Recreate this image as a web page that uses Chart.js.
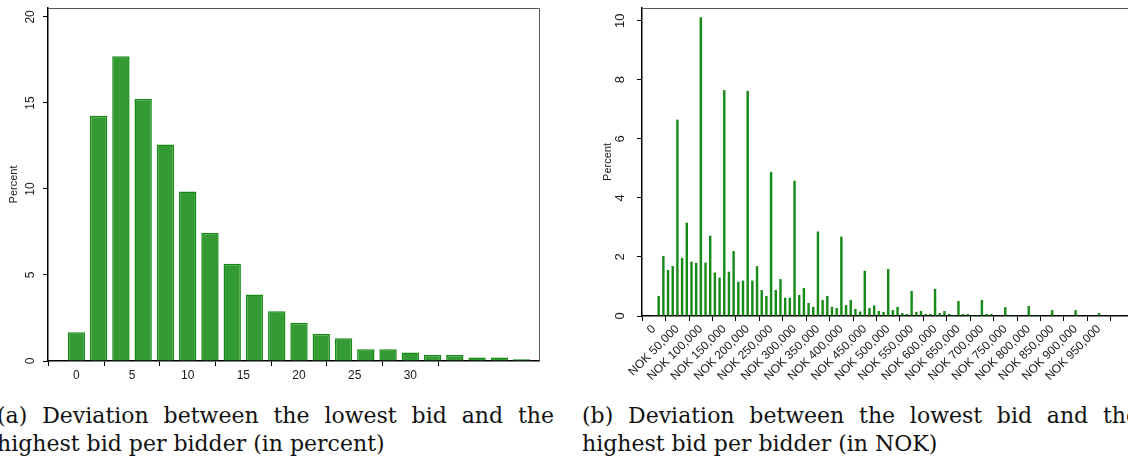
<!DOCTYPE html>
<html><head><meta charset="utf-8">
<script src="https://cdn.jsdelivr.net/npm/chart.js@4.4.1/dist/chart.umd.min.js"></script>
<style>
html,body{margin:0;padding:0;background:#fff;overflow:hidden;width:1128px;height:458px;position:relative;}
#wrapA{position:absolute;left:0;top:0;width:560px;height:395px;}
#wrapB{position:absolute;left:570px;top:0;width:590px;height:395px;}
canvas{display:block;}
.cap{position:absolute;font-family:"DejaVu Serif",serif;font-size:22px;line-height:28px;color:#111;}
.just{text-align:justify;text-align-last:justify;}
.nw{white-space:nowrap;}
</style></head><body>
<div id="wrapA"><canvas id="cA" width="560" height="395"></canvas></div>
<div id="wrapB"><canvas id="cB" width="590" height="395"></canvas></div>
<div class="cap just" style="left:-3px;top:402px;width:557px;">(a) Deviation between the lowest bid and the</div>
<div class="cap nw" style="left:-3px;top:430px;">highest bid per bidder (in percent)</div>
<div class="cap just" style="left:582px;top:402px;width:557px;">(b) Deviation between the lowest bid and the</div>
<div class="cap nw" style="left:582px;top:430px;">highest bid per bidder (in NOK)</div>
<script>
// ---- Panel (a): deviation in percent ----
const pctBins = [0,2,4,6,8,10,12,14,16,18,20,22,24,26,28,30,32,34,36,38,40];
const pctShares = [1.67,14.26,17.71,15.23,12.59,9.86,7.45,5.65,3.86,2.89,2.23,1.57,1.32,0.68,0.68,0.50,0.35,0.35,0.21,0.21,0.10];
const pctXTicks = [0,5,10,15,20,25,30];
const pctYTicks = [0,5,10,15,20];

// ---- Panel (b): deviation in NOK (thousands) ----
const nokBinsK = [0,10,20,30,40,50,60,70,80,90,100,110,120,130,140,150,160,170,180,190,200,210,220,230,240,250,260,270,280,290,300,310,320,330,340,350,360,370,380,390,400,410,420,430,440,450,460,470,480,490,500,510,520,530,540,550,560,570,580,590,600,610,620,630,640,650,660,670,680,690,700,710,720,730,740,750,760,770,780,790,800,810,820,830,840,850,860,870,880,890,900,910,920,930,940,950,960,970,980,990,1000];
const nokShares = [0.03,0.68,2.03,1.56,1.69,6.65,1.97,3.16,1.84,1.80,
 10.12,1.81,2.72,1.47,1.30,7.65,1.50,2.20,1.16,1.20,
 7.62,1.20,1.69,0.88,0.68,4.88,0.88,1.25,0.62,0.62,
 4.58,0.71,0.95,0.44,0.31,2.86,0.54,0.68,0.31,0.27,
 2.69,0.37,0.54,0.24,0.15,1.53,0.27,0.36,0.17,0.14,
 1.59,0.20,0.31,0.10,0.07,0.85,0.14,0.17,0.07,0.07,
 0.92,0.10,0.17,0.07,0.03,0.51,0.07,0.07,0.03,0.03,
 0.54,0.07,0.07,0.02,0.02,0.30,0.03,0.03,0.01,0.01,
 0.34,0.03,0.03,0.01,0.01,0.20,0.01,0.03,0.01,0.01,
 0.20,0.01,0.01,0.01,0.01,0.10,0.01,0.01,0.01,0.01,0.01];
const nokXTicks = [0,50,100,150,200,250,300,350,400,450,500,550,600,650,700,750,800,850,900,950];
const nokXLabels = ["0","NOK 50,000","NOK 100,000","NOK 150,000","NOK 200,000","NOK 250,000","NOK 300,000","NOK 350,000","NOK 400,000","NOK 450,000","NOK 500,000","NOK 550,000","NOK 600,000","NOK 650,000","NOK 700,000","NOK 750,000","NOK 800,000","NOK 850,000","NOK 900,000","NOK 950,000"];
const nokYTicks = [0,2,4,6,8,10];
const yTitle = "Percent";

Chart.defaults.font.family = '"Liberation Sans", Arial, sans-serif';
Chart.defaults.color = '#1a1a1a';

function deco(o){
  return {
    id:'deco',
    afterDraw(chart){
      const ctx = chart.ctx, ca = chart.chartArea, ys = chart.scales.y;
      ctx.save();
      ctx.strokeStyle = '#555'; ctx.lineWidth = 1;
      ctx.beginPath();
      ctx.moveTo(ca.left, ca.top + 0.5); ctx.lineTo(ca.right + 0.5, ca.top + 0.5);
      ctx.lineTo(ca.right + 0.5, ca.bottom);
      ctx.stroke();
      ctx.fillStyle = '#1a1a1a';
      ctx.textAlign = 'center'; ctx.textBaseline = 'middle';
      ctx.font = o.tickFont + 'px "Liberation Sans", Arial, sans-serif';
      o.ticks.forEach(v => {
        const py = ys.getPixelForValue(v);
        ctx.save(); ctx.translate(o.tickX, py); ctx.rotate(-Math.PI/2);
        ctx.fillText(String(v), 0, 0); ctx.restore();
      });
      ctx.font = '11px "Liberation Sans", Arial, sans-serif';
      ctx.save(); ctx.translate(o.titleX, (ca.top + ca.bottom)/2); ctx.rotate(-Math.PI/2);
      ctx.fillText(yTitle, 0, 0); ctx.restore();
      ctx.restore();
    }
  };
}

const axisCommon = {
  grid:{display:true, drawOnChartArea:false, drawTicks:true, tickLength:5, color:'#000', lineWidth:1},
  border:{display:true, color:'#000', width:1.5}
};

new Chart(document.getElementById('cA'), {
  type:'bar',
  data:{datasets:[{
    data: pctBins.map((x,i)=>({x:x, y:pctShares[i]})),
    backgroundColor:'#349b34', borderColor:'#158a15', borderWidth:1.5,
    barPercentage:0.78, categoryPercentage:1
  }]},
  options:{
    responsive:false, animation:false,
    layout:{padding:{top:8, right:21, left:0, bottom:0}},
    plugins:{legend:{display:false}, tooltip:{enabled:false}},
    scales:{
      x:{type:'linear', min:-2.55, max:41.56, offset:false,
        afterBuildTicks:s=>{ s.ticks = pctXTicks.map(v=>({value:v})); },
        afterFit:s=>{ s.height = 34; },
        ticks:{autoSkip:false, minRotation:0, maxRotation:0, padding:2, font:{size:12}, callback:v=>String(v)},
        ...axisCommon},
      y:{type:'linear', min:0, max:20.52,
        afterBuildTicks:s=>{ s.ticks = pctYTicks.map(v=>({value:v})); },
        afterFit:s=>{ s.width = 48; },
        ticks:{display:false},
        ...axisCommon}
    }
  },
  plugins:[deco({ticks:pctYTicks, tickX:30.7, titleX:14, tickFont:12})]
});

new Chart(document.getElementById('cB'), {
  type:'bar',
  data:{datasets:[{
    data: nokBinsK.map((x,i)=>({x:x, y:nokShares[i]})),
    backgroundColor:'#188a18', borderWidth:0,
    barPercentage:0.52, categoryPercentage:1
  }]},
  options:{
    responsive:false, animation:false,
    layout:{padding:{top:8, right:15, left:0, bottom:0}},
    plugins:{legend:{display:false}, tooltip:{enabled:false}},
    scales:{
      x:{type:'linear', min:-25.6, max:1048.2, offset:false,
        afterBuildTicks:s=>{ s.ticks = nokXTicks.map(v=>({value:v})); },
        afterFit:s=>{ s.height = 79; },
        ticks:{autoSkip:false, minRotation:45, maxRotation:45, padding:1, font:{size:12},
          callback:(v,i)=>nokXLabels[nokXTicks.indexOf(v)]},
        ...axisCommon},
      y:{type:'linear', min:0, max:10.43,
        afterBuildTicks:s=>{ s.ticks = nokYTicks.map(v=>({value:v})); },
        afterFit:s=>{ s.width = 72; },
        ticks:{display:false},
        ...axisCommon}
    }
  },
  plugins:[deco({ticks:nokYTicks, tickX:50.5, titleX:38, tickFont:13})]
});
</script>
</body></html>
